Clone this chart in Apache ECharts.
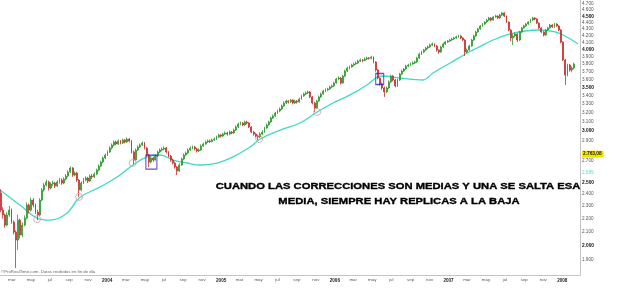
<!DOCTYPE html>
<html><head><meta charset="utf-8">
<script src="https://cdn.jsdelivr.net/npm/echarts@6/dist/echarts.min.js"></script>
<style>html,body{margin:0;padding:0;background:#fff}#c{width:628px;height:299px}</style>
</head><body><div id="c"></div>
<script>
// ---- data (weekly bars, first week ending 2003-01-24) ----
const firstWeek = [2003, 1, 24];
const open = [
2409,2267,2228,2150,2228,2267,2173,2097,2039,2188,
2076,2150,2204,2308,2267,2349,2308,2251,2228,2349,
2434,2477,2504,2451,2486,2495,2469,2504,2521,2495,
2530,2557,2594,2631,2566,2584,2521,2434,2495,2521,
2539,2512,2557,2550,2575,2612,2649,2687,2726,2755,
2785,2824,2854,2885,2864,2895,2874,2905,2885,2915,
2895,2785,2706,2804,2834,2854,2874,2824,2755,2687,
2726,2706,2745,2785,2804,2814,2824,2785,2745,2706,
2678,2640,2603,2659,2716,2755,2775,2804,2824,2834,
2814,2794,2804,2844,2864,2885,2895,2890,2905,2915,
2936,2957,2946,2967,2978,2967,2988,2978,3009,3042,
3074,3085,3064,3096,3085,3042,2988,2967,2946,2936,
2967,2988,3031,3064,3096,3140,3163,3196,3219,3242,
3276,3311,3334,3323,3346,3311,3334,3323,3359,3395,
3419,3431,3443,3383,3311,3253,3334,3383,3419,3455,
3467,3480,3504,3517,3554,3605,3617,3554,3643,3708,
3747,3761,3787,3801,3814,3841,3855,3850,3869,3882,
3878,3896,3828,3721,3617,3542,3492,3443,3492,3567,
3643,3592,3517,3592,3669,3708,3734,3774,3787,3801,
3814,3828,3882,3938,3966,3994,4022,4037,4065,4080,
4051,3994,3966,4037,4080,4109,4123,4138,4153,4168,
4183,4197,4168,4138,3966,3994,4051,4138,4197,4257,
4302,4348,4379,4410,4441,4473,4441,4489,4505,4473,
4521,4553,4505,4410,4287,4168,4197,4227,4138,4257,
4317,4348,4379,4410,4441,4473,4457,4394,4317,4257,
4212,4287,4317,4363,4333,4379,4348,4287,4109,3855,
3656,3787,3721,3747];
const high = [
2440,2290,2240,2250,2300,2280,2185,2110,2230,2200,
2170,2225,2330,2320,2370,2365,2320,2270,2365,2450,
2495,2525,2515,2500,2515,2505,2520,2540,2535,2545,
2575,2610,2645,2640,2600,2595,2530,2510,2540,2555,
2550,2570,2575,2590,2625,2665,2700,2740,2770,2800,
2840,2870,2900,2900,2910,2905,2920,2915,2930,2925,
2905,2800,2820,2850,2870,2890,2885,2835,2765,2740,
2735,2760,2800,2820,2830,2840,2835,2795,2755,2720,
2690,2650,2675,2730,2770,2790,2820,2840,2850,2845,
2825,2820,2860,2880,2900,2910,2910,2920,2930,2950,
2970,2965,2980,2995,2990,3005,3000,3025,3060,3090,
3100,3095,3110,3110,3095,3050,3000,2980,2960,2985,
3005,3045,3080,3110,3155,3180,3210,3235,3260,3295,
3330,3350,3345,3360,3355,3350,3345,3375,3410,3435,
3450,3460,3455,3395,3325,3350,3400,3435,3470,3485,
3495,3520,3535,3570,3620,3640,3630,3660,3725,3765,
3780,3805,3820,3835,3860,3875,3870,3890,3900,3895,
3915,3905,3840,3735,3630,3560,3510,3510,3585,3660,
3655,3605,3610,3685,3725,3750,3790,3805,3820,3835,
3845,3900,3955,3985,4010,4040,4055,4085,4100,4090,
4065,4005,4055,4100,4125,4140,4155,4170,4185,4200,
4215,4210,4180,4150,4015,4070,4155,4215,4275,4320,
4365,4395,4425,4460,4490,4485,4505,4525,4515,4540,
4570,4565,4515,4420,4300,4230,4250,4240,4275,4335,
4365,4395,4425,4460,4490,4485,4470,4405,4330,4270,
4300,4335,4380,4375,4395,4390,4360,4300,4120,3870,
3805,3800,3770,3820];
const low = [
2250,2200,2130,2140,2215,2160,2080,1847,1968,2050,
2060,2140,2195,2240,2255,2290,2235,2188,2220,2340,
2420,2465,2430,2440,2470,2450,2460,2490,2480,2485,
2520,2545,2585,2550,2555,2505,2375,2425,2485,2510,
2495,2505,2530,2540,2565,2600,2640,2675,2715,2745,
2775,2810,2840,2850,2855,2860,2865,2870,2875,2880,
2770,2668,2700,2795,2825,2845,2810,2740,2640,2675,
2690,2700,2735,2775,2790,2800,2770,2730,2690,2665,
2625,2566,2595,2650,2705,2745,2765,2795,2810,2800,
2780,2785,2795,2835,2855,2875,2875,2880,2895,2905,
2925,2930,2935,2955,2950,2955,2965,2970,3000,3030,
3060,3050,3055,3070,3030,2975,2950,2930,2905,2925,
2955,2980,3020,3055,3085,3130,3150,3185,3205,3230,
3265,3300,3305,3310,3295,3300,3305,3315,3350,3385,
3405,3420,3370,3295,3207,3245,3325,3370,3410,3440,
3455,3470,3490,3505,3545,3590,3535,3545,3630,3695,
3730,3750,3770,3790,3800,3830,3825,3840,3855,3860,
3865,3810,3700,3600,3520,3470,3383,3430,3480,3555,
3575,3500,3505,3580,3655,3695,3720,3760,3775,3790,
3800,3815,3870,3925,3950,3980,4005,4025,4050,4035,
3970,3940,3955,4025,4065,4095,4110,4125,4140,4155,
4170,4150,4120,3910,3950,3985,4040,4125,4185,4245,
4290,4335,4365,4395,4425,4420,4430,4475,4455,4460,
4505,4490,4395,4270,4120,4065,4180,4110,4125,4245,
4305,4335,4365,4395,4425,4440,4380,4300,4240,4190,
4200,4275,4305,4320,4320,4335,4270,4090,3840,3529,
3640,3700,3690,3730];
const close = [
2267,2228,2150,2228,2267,2173,2097,2039,2188,2076,
2150,2204,2308,2267,2349,2308,2251,2228,2349,2434,
2477,2504,2451,2486,2495,2469,2504,2521,2495,2530,
2557,2594,2631,2566,2584,2521,2434,2495,2521,2539,
2512,2557,2550,2575,2612,2649,2687,2726,2755,2785,
2824,2854,2885,2864,2895,2874,2905,2885,2915,2895,
2785,2706,2804,2834,2854,2874,2824,2755,2687,2726,
2706,2745,2785,2804,2814,2824,2785,2745,2706,2678,
2640,2603,2659,2716,2755,2775,2804,2824,2834,2814,
2794,2804,2844,2864,2885,2895,2890,2905,2915,2936,
2957,2946,2967,2978,2967,2988,2978,3009,3042,3074,
3085,3064,3096,3085,3042,2988,2967,2946,2936,2967,
2988,3031,3064,3096,3140,3163,3196,3219,3242,3276,
3311,3334,3323,3346,3311,3334,3323,3359,3395,3419,
3431,3443,3383,3311,3253,3334,3383,3419,3455,3467,
3480,3504,3517,3554,3605,3617,3554,3643,3708,3747,
3761,3787,3801,3814,3841,3855,3850,3869,3882,3878,
3896,3828,3721,3617,3542,3492,3443,3492,3567,3643,
3592,3517,3592,3669,3708,3734,3774,3787,3801,3814,
3828,3882,3938,3966,3994,4022,4037,4065,4080,4051,
3994,3966,4037,4080,4109,4123,4138,4153,4168,4183,
4197,4168,4138,3966,3994,4051,4138,4197,4257,4302,
4348,4379,4410,4441,4473,4441,4489,4505,4473,4521,
4553,4505,4410,4287,4168,4197,4227,4138,4257,4317,
4348,4379,4410,4441,4473,4457,4394,4317,4257,4212,
4287,4317,4363,4333,4379,4348,4287,4109,3855,3656,
3787,3721,3747,3801];

// moving average
const maDates = ['2003-01-22','2003-03-27','2003-05-21','2003-07-02','2003-08-25','2003-10-03','2003-12-09',
 '2004-02-02','2004-03-24','2004-05-08','2004-06-19','2004-07-31','2004-09-13','2004-10-25','2004-12-19',
 '2005-02-08','2005-04-04','2005-05-06','2005-07-09','2005-09-11','2005-11-05','2005-12-26',
 '2006-02-19','2006-04-14','2006-05-17','2006-06-05','2006-07-29','2006-10-11','2006-11-12',
 '2007-01-06','2007-03-02','2007-04-03','2007-05-24','2007-07-18','2007-09-04','2007-10-22','2007-12-09',
 '2008-01-10','2008-02-21'];
const maValues = [2434,2308,2204,2188,2242,2366,2460,
 2548,2659,2736,2755,2706,2678,2659,2678,
 2736,2834,2915,3009,3085,3207,3311,
 3407,3529,3630,3643,3617,3592,3682,
 3814,3952,4022,4138,4227,4272,4287,4257,
 4197,4080];

// annotations
const circleDates = ['2003-05-21','2003-10-03','2004-03-23','2005-05-03','2005-11-05'];
const circleValues = [2196,2375,2678,2915,3207];
const boxDates = ['2004-05-22','2006-05-25'];
const boxValues = [2687,3605];

// axis ticks / labels
const yTicks = [1900,2000,2100,2200,2300,2400,2500,2700,2900,3000,3100,3200,3300,3400,3500,3600,3700,3800,3900,4000,4100,4200,4300,4400,4500,4600,4700];
const lastPrice = 2763.08;
const maLabelValue = 2589;
const monthTicks = ['2003-03-01','2003-05-01','2003-07-01','2003-09-01','2003-11-01',
 '2004-01-01','2004-03-01','2004-05-01','2004-07-01','2004-09-01','2004-11-01',
 '2005-01-01','2005-03-01','2005-05-01','2005-07-01','2005-09-01','2005-11-01',
 '2006-01-01','2006-03-01','2006-05-01','2006-07-01','2006-09-01','2006-11-01',
 '2007-01-01','2007-03-01','2007-05-01','2007-07-01','2007-09-01','2007-11-01',
 '2008-01-01'];
const monthNames = ['ene','feb','mar','abr','may','jun','jul','ago','sep','oct','nov','dic'];
const noteLines = ['CUANDO LAS CORRECCIONES SON MEDIAS Y UNA SE SALTA ESA','MEDIA, SIEMPRE HAY REPLICAS A LA BAJA'];
const watermark = '\u00a9ProRealTime.com. Datos recibidos en fin de d\u00eda';

// ---- build ----
const ts = s => { const p = s.split('-').map(Number); return new Date(p[0], p[1]-1, p[2]||1).getTime(); };
const L = Math.log;
const weekT = close.map((_, k) => new Date(firstWeek[0], firstWeek[1]-1, firstWeek[2] + 7*k).getTime());
const candles = close.map((c, k) => [weekT[k], L(open[k]), L(c), L(low[k]), L(high[k])]);
const ma = maDates.map((d, i) => [ts(d), L(maValues[i])]);
const circles = circleDates.map((d, i) => [ts(d), L(circleValues[i])]);
const boxSizes = [[11,14],[8,11]];
const boxes = boxDates.map((d, i) => ({value: [ts(d), L(boxValues[i])], symbolSize: boxSizes[i]}));
const fmtNum = n => Math.floor(n/1000) + '.' + String(n % 1000).padStart(3, '0');
const FONT = '"Liberation Sans", Arial, sans-serif';

const chart = echarts.init(document.getElementById('c'), null, {renderer: 'canvas'});
chart.setOption({
  animation: false,
  backgroundColor: '#ffffff',
  grid: {left: 0, right: 48, top: 0, bottom: 24, containLabel: false},
  xAxis: {
    type: 'value', min: ts('2003-01-22'), max: ts('2008-02-27'), scale: true,
    axisLine: {show: true, lineStyle: {color: '#c4c4c4', width: 1}},
    axisTick: {show: false}, splitLine: {show: false},
    axisLabel: {
      customValues: monthTicks.map(ts), margin: 3, hideOverlap: false,
      formatter: v => { const d = new Date(v); const m = d.getMonth();
        return m === 0 ? '{y|' + d.getFullYear() + '}' : '{m|' + monthNames[m] + '}'; },
      rich: {
        y: {fontSize: 4.6, fontWeight: 'bold', color: '#222', fontFamily: FONT},
        m: {fontSize: 4.4, color: '#555', fontFamily: FONT}
      }
    }
  },
  yAxis: {
    type: 'value', position: 'right', min: L(1802), max: L(4767), scale: true,
    axisLine: {show: true, lineStyle: {color: '#c4c4c4', width: 1}},
    axisTick: {show: false}, splitLine: {show: false},
    axisLabel: {
      customValues: yTicks.map(L).concat([L(lastPrice), L(maLabelValue)]),
      margin: 2, hideOverlap: false,
      formatter: v => {
        const x = Math.exp(v);
        if (Math.abs(x - lastPrice) < 0.5) return '{last|2.763,08}';
        if (Math.abs(x - maLabelValue) < 0.5) return '{ma|' + fmtNum(maLabelValue) + '}';
        const n = Math.round(x);
        return (n % 500 === 0 ? '{b|' : '{n|') + fmtNum(n) + '}';
      },
      rich: {
        n: {fontSize: 4.6, color: '#555', fontFamily: FONT},
        b: {fontSize: 4.8, fontWeight: 'bold', color: '#111', fontFamily: FONT},
        last: {fontSize: 4.8, fontWeight: 'bold', color: '#222', backgroundColor: '#f2e400', padding: [1, 2, 1, 1], fontFamily: FONT},
        ma: {fontSize: 4.6, color: '#58d8c8', fontFamily: FONT}
      }
    }
  },
  series: [
    {
      type: 'line', data: ma, smooth: 0.4, showSymbol: false, z: 2,
      lineStyle: {color: '#3fd9c6', width: 1.3}
    },
    {
      type: 'candlestick', data: candles, barWidth: 1.4, z: 3,
      itemStyle: {color: '#2f9a2f', color0: '#c83030', borderColor: '#2f9a2f', borderColor0: '#c83030', borderWidth: 0.8}
    },
    {
      type: 'scatter', data: circles, symbol: 'circle', symbolSize: 7, z: 4,
      itemStyle: {color: 'rgba(255,255,255,0)', borderColor: '#c9a3a3', borderWidth: 1}
    },
    {
      type: 'scatter', data: boxes, symbol: 'rect', z: 4,
      itemStyle: {color: 'rgba(255,255,255,0)', borderColor: '#2a2ac8', borderWidth: 1.2}
    }
  ],
  graphic: [
    {type: 'text', x: 398, y: 186, scaleX: 1.18, z: 10,
      style: {text: noteLines[0], font: 'bold 9.5px ' + FONT, fill: '#000', stroke: '#000', lineWidth: 0.35, align: 'center', verticalAlign: 'middle'}},
    {type: 'text', x: 399, y: 201, scaleX: 1.18, z: 10,
      style: {text: noteLines[1], font: 'bold 9.5px ' + FONT, fill: '#000', stroke: '#000', lineWidth: 0.35, align: 'center', verticalAlign: 'middle'}},
    {type: 'text', x: 1, y: 272, z: 10,
      style: {text: watermark, font: '4.3px ' + FONT, fill: '#666', align: 'left', verticalAlign: 'middle'}}
  ]
});
</script></body></html>
